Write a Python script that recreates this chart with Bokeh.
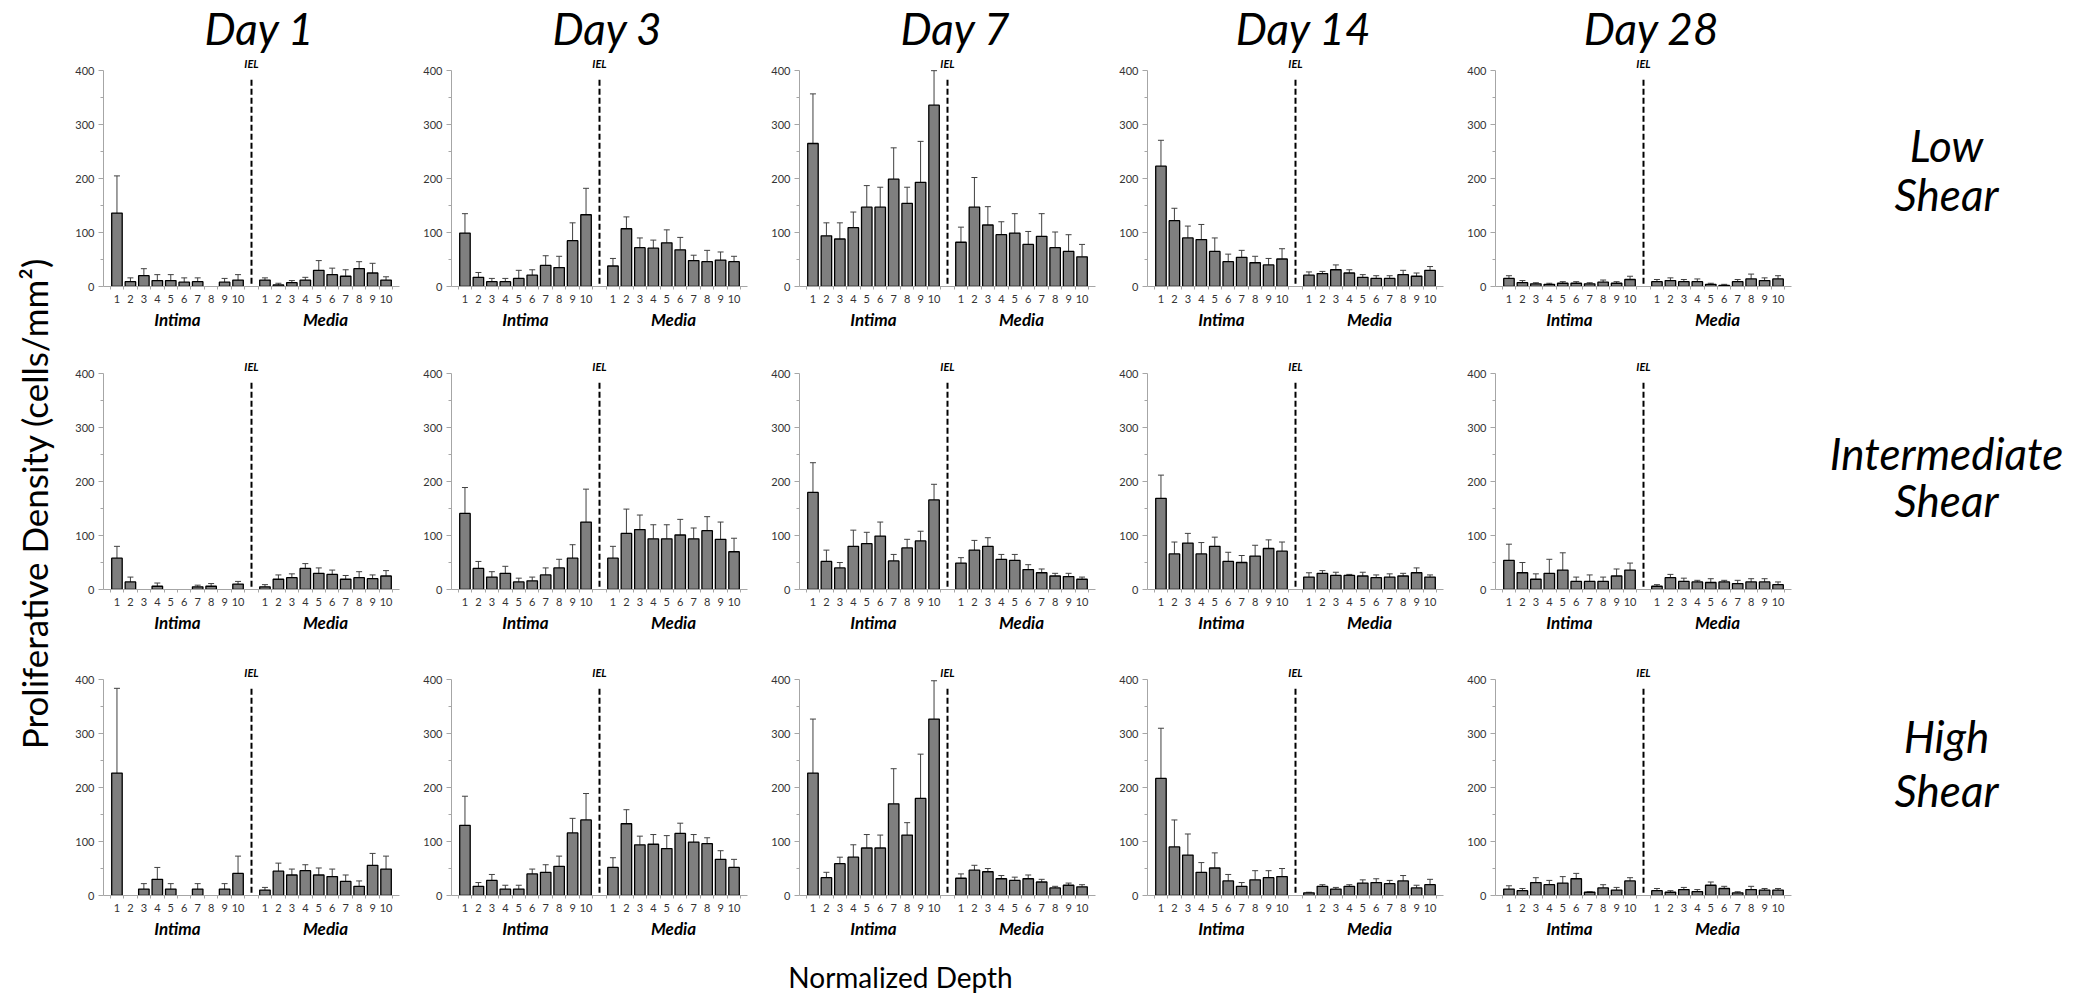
import math
from bokeh.plotting import figure
from bokeh.models import (ColumnDataSource, Range1d, FixedTicker, LinearAxis,
                          Whisker, TeeHead)
from bokeh.layouts import row, column
from bokeh.embed import file_html
from bokeh.resources import INLINE
from bokeh.core.properties import value

# ---------------- categories / labels ----------------
days = ["Day 1", "Day 3", "Day 7", "Day 14", "Day 28"]
shear_names = [["Low", "Shear"], ["Intermediate", "Shear"], ["High", "Shear"]]
depth_labels = ["1", "2", "3", "4", "5", "6", "7", "8", "9", "10"]
region_labels = ["Intima", "Media"]
y_ticks = [0, 100, 200, 300, 400]
y_minor_ticks = [50, 150, 250, 350]

# ---------------- data: mean and upper error (SD) ----------------
# Low shear
low_d1_intima = [136, 9, 20, 11, 11, 8, 9, 0, 8, 12]
low_d1_intima_sd = [69, 7, 13, 11, 11, 8, 7, 0, 7, 10]
low_d1_media = [12, 3, 7, 12, 30, 22, 19, 33, 25, 12]
low_d1_media_sd = [4, 3, 4, 5, 18, 12, 12, 13, 18, 6]

low_d3_intima = [99, 17, 9, 9, 15, 21, 39, 35, 85, 133]
low_d3_intima_sd = [36, 9, 6, 6, 15, 10, 18, 21, 33, 49]
low_d3_media = [38, 107, 72, 71, 81, 68, 48, 46, 49, 46]
low_d3_media_sd = [14, 22, 18, 15, 24, 23, 10, 21, 15, 10]

low_d7_intima = [265, 94, 88, 109, 147, 147, 199, 154, 193, 336]
low_d7_intima_sd = [92, 24, 30, 29, 40, 37, 58, 30, 76, 64]
low_d7_media = [82, 147, 114, 96, 99, 78, 93, 72, 65, 55]
low_d7_media_sd = [28, 55, 34, 24, 36, 24, 42, 29, 31, 23]

low_d14_intima = [223, 122, 90, 87, 65, 46, 54, 44, 40, 51]
low_d14_intima_sd = [48, 23, 22, 28, 25, 14, 13, 12, 12, 19]
low_d14_media = [21, 24, 31, 25, 17, 15, 15, 22, 19, 30]
low_d14_media_sd = [6, 4, 9, 6, 5, 5, 5, 8, 6, 7]

low_d28_intima = [15, 7, 5, 4, 6, 6, 5, 8, 6, 13]
low_d28_intima_sd = [5, 4, 2, 2, 3, 3, 2, 4, 3, 6]
low_d28_media = [9, 11, 9, 9, 4, 2, 9, 14, 11, 14]
low_d28_media_sd = [4, 5, 4, 5, 2, 2, 4, 9, 5, 6]

# Intermediate shear
int_d1_intima = [58, 14, 0, 6, 0, 0, 5, 6, 0, 10]
int_d1_intima_sd = [22, 9, 0, 6, 0, 0, 3, 5, 0, 5]
int_d1_media = [5, 19, 22, 39, 30, 28, 19, 22, 20, 25]
int_d1_media_sd = [4, 8, 7, 9, 10, 8, 7, 11, 7, 10]

int_d3_intima = [141, 39, 23, 30, 14, 16, 27, 40, 58, 125]
int_d3_intima_sd = [48, 13, 10, 13, 7, 7, 13, 16, 25, 61]
int_d3_media = [58, 104, 111, 94, 94, 101, 94, 109, 93, 70]
int_d3_media_sd = [22, 45, 27, 26, 26, 29, 20, 26, 32, 25]

int_d7_intima = [180, 52, 40, 80, 85, 99, 53, 77, 90, 166]
int_d7_intima_sd = [55, 21, 10, 30, 21, 26, 12, 16, 18, 29]
int_d7_media = [49, 73, 80, 56, 54, 37, 31, 25, 24, 19]
int_d7_media_sd = [10, 18, 16, 9, 11, 9, 7, 5, 6, 4]

int_d14_intima = [169, 66, 86, 66, 80, 52, 50, 62, 76, 71]
int_d14_intima_sd = [43, 22, 18, 21, 17, 17, 13, 20, 16, 17]
int_d14_media = [23, 30, 26, 26, 25, 22, 23, 25, 31, 23]
int_d14_media_sd = [8, 5, 6, 2, 7, 5, 6, 5, 9, 4]

int_d28_intima = [54, 31, 19, 30, 36, 15, 15, 15, 25, 36]
int_d28_intima_sd = [30, 19, 10, 26, 32, 8, 12, 8, 13, 13]
int_d28_media = [6, 22, 15, 14, 13, 14, 11, 14, 14, 9]
int_d28_media_sd = [3, 6, 6, 3, 7, 3, 6, 6, 6, 5]

# High shear
high_d1_intima = [227, 0, 12, 30, 12, 0, 12, 0, 12, 41]
high_d1_intima_sd = [157, 0, 10, 22, 10, 0, 10, 0, 10, 32]
high_d1_media = [10, 45, 38, 46, 38, 35, 26, 17, 56, 49]
high_d1_media_sd = [5, 15, 11, 11, 13, 14, 12, 10, 22, 24]

high_d3_intima = [130, 17, 28, 12, 12, 40, 43, 54, 116, 140]
high_d3_intima_sd = [54, 7, 11, 7, 7, 9, 14, 19, 27, 49]
high_d3_media = [52, 133, 94, 95, 87, 115, 99, 96, 67, 52]
high_d3_media_sd = [18, 26, 16, 18, 24, 19, 14, 11, 16, 15]

high_d7_intima = [227, 33, 59, 71, 88, 88, 170, 112, 180, 327]
high_d7_intima_sd = [100, 10, 12, 23, 25, 24, 65, 23, 82, 71]
high_d7_media = [32, 47, 44, 31, 28, 31, 25, 14, 19, 16]
high_d7_media_sd = [8, 9, 6, 6, 6, 7, 5, 3, 4, 4]

high_d14_intima = [217, 90, 75, 43, 51, 27, 17, 29, 33, 35]
high_d14_intima_sd = [93, 50, 39, 18, 28, 12, 7, 17, 13, 15]
high_d14_media = [5, 17, 12, 17, 23, 24, 22, 27, 14, 20]
high_d14_media_sd = [1, 3, 3, 3, 6, 7, 6, 10, 5, 10]

high_d28_intima = [12, 9, 24, 20, 23, 31, 6, 14, 10, 27]
high_d28_intima_sd = [6, 4, 9, 8, 12, 10, 1, 6, 5, 6]
high_d28_media = [9, 6, 11, 7, 19, 13, 5, 11, 10, 10]
high_d28_media_sd = [4, 3, 4, 4, 6, 4, 2, 6, 3, 3]

panels = [
    [(low_d1_intima, low_d1_intima_sd, low_d1_media, low_d1_media_sd),
     (low_d3_intima, low_d3_intima_sd, low_d3_media, low_d3_media_sd),
     (low_d7_intima, low_d7_intima_sd, low_d7_media, low_d7_media_sd),
     (low_d14_intima, low_d14_intima_sd, low_d14_media, low_d14_media_sd),
     (low_d28_intima, low_d28_intima_sd, low_d28_media, low_d28_media_sd)],
    [(int_d1_intima, int_d1_intima_sd, int_d1_media, int_d1_media_sd),
     (int_d3_intima, int_d3_intima_sd, int_d3_media, int_d3_media_sd),
     (int_d7_intima, int_d7_intima_sd, int_d7_media, int_d7_media_sd),
     (int_d14_intima, int_d14_intima_sd, int_d14_media, int_d14_media_sd),
     (int_d28_intima, int_d28_intima_sd, int_d28_media, int_d28_media_sd)],
    [(high_d1_intima, high_d1_intima_sd, high_d1_media, high_d1_media_sd),
     (high_d3_intima, high_d3_intima_sd, high_d3_media, high_d3_media_sd),
     (high_d7_intima, high_d7_intima_sd, high_d7_media, high_d7_media_sd),
     (high_d14_intima, high_d14_intima_sd, high_d14_media, high_d14_media_sd),
     (high_d28_intima, high_d28_intima_sd, high_d28_media, high_d28_media_sd)],
]

# ---------------- layout constants ----------------
FONT = "Lato"
FRAME_W, FRAME_H = 296, 232
B_LEFT, B_RIGHT = 45, 7
PANEL_W = FRAME_W + B_LEFT + B_RIGHT
ROW_BORDERS = [(0, 67), (4, 70), (4, 60)]
TITLE_H = 54
BOTTOM_H = 42
LEFT_W = 58
RIGHT_W = 276
AXIS_GREY = "#a6a6a6"
TICK_TEXT = "#333333"
BAR_FILL = "#7f7f7f"
IEL_SLOT = 11
IEL_LINE = (5, 385)
IEL_LABEL_Y = 413

intima_x = list(range(1, 11))
media_x = list(range(12, 22))


def make_panel(intima, intima_sd, media, media_sd, b_top, b_bottom):
    p = figure(frame_width=FRAME_W, frame_height=FRAME_H,
               x_range=Range1d(0, 22), y_range=Range1d(0, 430),
               output_backend="svg", toolbar_location=None,
               min_border_left=B_LEFT, min_border_right=B_RIGHT,
               min_border_top=b_top, min_border_bottom=b_bottom)
    p.outline_line_color = None
    p.xgrid.visible = False
    p.ygrid.visible = False
    p.background_fill_color = "white"
    p.border_fill_color = "white"

    xs = intima_x + media_x
    means = list(intima) + list(media)
    sds = list(intima_sd) + list(media_sd)
    keep = [i for i in range(len(xs)) if means[i] > 0]
    bars = ColumnDataSource(dict(x=[xs[i] for i in keep],
                                 top=[means[i] for i in keep]))
    p.vbar(x="x", top="top", width=0.78, source=bars,
           fill_color=BAR_FILL, line_color="black", line_width=1.3)

    ek = [i for i in range(len(xs)) if sds[i] > 0]
    err = ColumnDataSource(dict(x=[xs[i] for i in ek],
                                lower=[means[i] for i in ek],
                                upper=[means[i] + sds[i] for i in ek]))
    w = Whisker(source=err, base="x", lower="lower", upper="upper",
                line_color="#404040", line_width=1,
                lower_head=None,
                upper_head=TeeHead(size=6, line_color="#404040", line_width=1))
    p.add_layout(w)

    # IEL dashed divider
    p.segment(x0=[IEL_SLOT], y0=[IEL_LINE[0]], x1=[IEL_SLOT], y1=[IEL_LINE[1]],
              line_color="black", line_width=2, line_dash="6 3")
    p.text(x=[IEL_SLOT], y=[IEL_LABEL_Y], text=["IEL"], text_font=value(FONT),
           text_font_style="bold italic", text_font_size="11px",
           text_align="center", text_baseline="middle", text_color="black")

    # y axis
    ya = p.yaxis[0]
    ya.ticker = FixedTicker(ticks=y_ticks, minor_ticks=y_minor_ticks)
    ya.bounds = (0, 400)
    ya.axis_line_color = AXIS_GREY
    ya.major_tick_line_color = AXIS_GREY
    ya.minor_tick_line_color = AXIS_GREY
    ya.major_tick_out = 5
    ya.major_tick_in = 0
    ya.minor_tick_out = 3
    ya.minor_tick_in = 0
    ya.major_label_standoff = 4
    ya.major_label_text_font = FONT
    ya.major_label_text_font_size = "11px"
    ya.major_label_text_color = TICK_TEXT

    # x axis: depth numbers
    xa = p.xaxis[0]
    xa.ticker = FixedTicker(ticks=xs,
                            minor_ticks=[v + 0.5 for v in range(0, 22)])
    xa.major_label_overrides = {x: depth_labels[i % 10] for i, x in enumerate(xs)}
    xa.axis_line_color = AXIS_GREY
    xa.major_tick_line_color = None
    xa.major_tick_out = 0
    xa.major_tick_in = 0
    xa.minor_tick_line_color = AXIS_GREY
    xa.minor_tick_out = 3
    xa.minor_tick_in = 0
    xa.major_label_standoff = 5
    xa.major_label_text_font = FONT
    xa.major_label_text_font_size = "11px"
    xa.major_label_text_color = TICK_TEXT

    # second axis: region names
    centers = [sum(intima_x) / len(intima_x), sum(media_x) / len(media_x)]
    ra = LinearAxis(ticker=FixedTicker(ticks=centers),
                    major_label_overrides={centers[0]: region_labels[0],
                                           centers[1]: region_labels[1]})
    ra.axis_line_color = None
    ra.major_tick_line_color = None
    ra.minor_tick_line_color = None
    ra.major_tick_out = 0
    ra.major_label_standoff = 3
    ra.major_label_text_font = FONT
    ra.major_label_text_font_style = "bold italic"
    ra.major_label_text_font_size = "17px"
    ra.major_label_text_color = "black"
    p.add_layout(ra, "below")
    return p


def blank(w, h):
    f = figure(width=w, height=h, x_range=Range1d(0, w), y_range=Range1d(h, 0),
               output_backend="svg", toolbar_location=None,
               x_axis_location=None, y_axis_location=None, min_border=0)
    f.outline_line_color = None
    f.xgrid.visible = False
    f.ygrid.visible = False
    return f


rows = []
for r, row_panels in enumerate(panels):
    bt, bb = ROW_BORDERS[r]
    figs = [make_panel(*pd, bt, bb) for pd in row_panels]
    rows.append(row(*figs, spacing=0))

grid_w = PANEL_W * len(days)
row_heights = [FRAME_H + bt + bb for bt, bb in ROW_BORDERS]
total_h = TITLE_H + sum(row_heights) + BOTTOM_H

# Day titles
top = blank(grid_w, TITLE_H)
top.text(x=[PANEL_W * i + B_LEFT + FRAME_W / 2 + 8 for i in range(len(days))],
         y=[27] * len(days), text=days, text_font=value(FONT),
         text_font_style="italic", text_font_size="44px",
         text_align="center", text_baseline="middle", text_color="black")

# x title
bottom = blank(grid_w, BOTTOM_H)
bottom.text(x=[842], y=[21], text=["Normalized Depth"], text_font=value(FONT),
            text_font_size="28px", text_align="center",
            text_baseline="middle", text_color="black")

# y title
left = blank(LEFT_W, total_h)
left.text(x=[33], y=[503], text=["Proliferative Density (cells/mm\u00b2)"],
          text_font=value(FONT), text_font_size="35px", angle=math.pi / 2,
          text_align="center", text_baseline="middle", text_color="black")

# shear labels
right = blank(RIGHT_W, total_h)
label_y = [[144, 193], [452, 499], [735, 789]]
for r, names in enumerate(shear_names):
    right.text(x=[148, 148], y=label_y[r], text=names, text_font=value(FONT),
               text_font_style="italic", text_font_size="44px",
               text_align="center", text_baseline="middle",
               text_color="black")

center = column(top, *rows, bottom, spacing=0)
layout = row(left, center, right, spacing=0)

open("out.html", "w").write(file_html(layout, INLINE))
